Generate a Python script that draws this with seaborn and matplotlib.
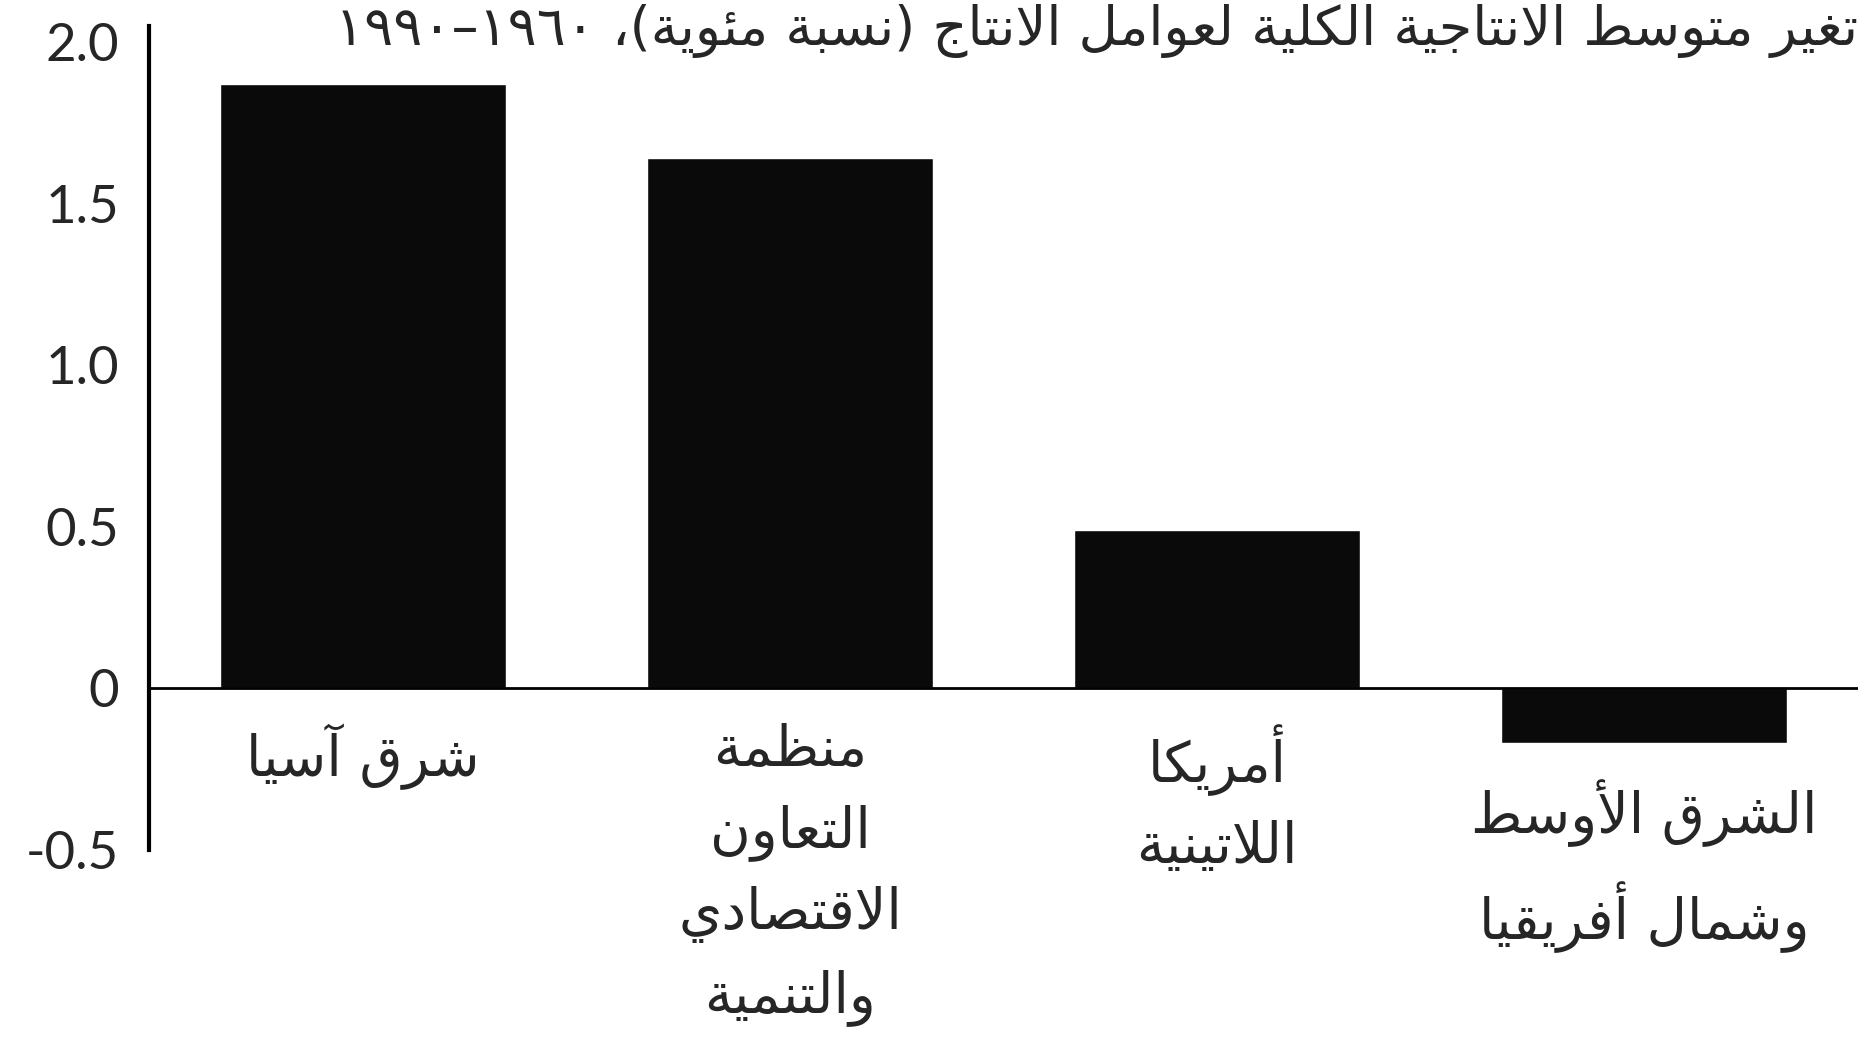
import re
import matplotlib
matplotlib.use("Agg")
import matplotlib.pyplot as plt
import seaborn as sns
import pandas as pd

# data
regions = ["شرق آسيا",
           "منظمة\nالتعاون\nالاقتصادي\nوالتنمية",
           "أمريكا\nاللاتينية",
           "الشرق الأوسط\nوشمال أفريقيا"]
values = [1.87, 1.64, 0.49, -0.17]
yticks = [-0.5, 0, 0.5, 1.0, 1.5, 2.0]
ytick_labels = ["-0.5", "0", "0.5", "1.0", "1.5", "2.0"]
title = "تغير متوسط الانتاجية الكلية لعوامل الانتاج (نسبة مئوية)، ١٩٦٠–١٩٩٠"

# minimal arabic shaping (matplotlib does not shape arabic itself)
DUAL = {'ب': 0xFE8F, 'ت': 0xFE95, 'ث': 0xFE99, 'ج': 0xFE9D, 'ح': 0xFEA1, 'خ': 0xFEA5,
        'س': 0xFEB1, 'ش': 0xFEB5, 'ص': 0xFEB9, 'ض': 0xFEBD, 'ط': 0xFEC1, 'ظ': 0xFEC5,
        'ع': 0xFEC9, 'غ': 0xFECD, 'ف': 0xFED1, 'ق': 0xFED5, 'ك': 0xFED9, 'ل': 0xFEDD,
        'م': 0xFEE1, 'ن': 0xFEE5, 'ه': 0xFEE9, 'ي': 0xFEF1, 'ئ': 0xFE89}
RIGHT = {'آ': 0xFE81, 'أ': 0xFE83, 'ا': 0xFE8D, 'ة': 0xFE93, 'د': 0xFEA9, 'ذ': 0xFEAB,
         'ر': 0xFEAD, 'ز': 0xFEAF, 'و': 0xFEED, 'ى': 0xFEEF,
         'لا': 0xFEFB, 'لأ': 0xFEF7, 'لآ': 0xFEF5}


def shape_line(s):
    toks = []
    i = 0
    while i < len(s):
        if s[i] == 'ل' and i + 1 < len(s) and s[i + 1] in 'اأآ':
            toks.append(s[i:i + 2])
            i += 2
        else:
            toks.append(s[i])
            i += 1
    out = []
    for k, t in enumerate(toks):
        prev = toks[k - 1] if k > 0 else None
        nxt = toks[k + 1] if k + 1 < len(toks) else None
        if t in DUAL:
            jp = prev in DUAL
            jn = nxt in DUAL or nxt in RIGHT
            off = 3 if (jp and jn) else 1 if jp else 2 if jn else 0
            out.append(chr(DUAL[t] + off))
        elif t in RIGHT:
            out.append(chr(RIGHT[t] + (1 if prev in DUAL else 0)))
        else:
            out.append(t)
    text = ''.join(out)
    parts = re.findall(r'[0-9\u0660-\u0669]+|.', text)
    mirror = {'(': ')', ')': '('}
    return ''.join(mirror.get(p, p) for p in reversed(parts))


def shape(s):
    return '\n'.join(shape_line(l) for l in s.split('\n'))


df = pd.DataFrame({"region": regions, "value": values})

sns.set_style("white")
plt.rcParams['font.family'] = ['Lato', 'DejaVu Sans']

fig = plt.figure(figsize=(18.67, 10.39), dpi=100)
ax = fig.add_axes([0.08, 0.182, 0.915, 0.793])

sns.barplot(data=df, x="region", y="value", color="#0a0a0a", saturation=1,
            width=0.67, ax=ax)

ax.set_xlim(-0.5, 3.5)
ax.set_ylim(-0.5, 2.05)
ax.set_yticks(yticks)
ax.set_yticklabels(ytick_labels, fontsize=38)
ax.tick_params(axis='y', length=0, pad=22)
ax.set_xticks([])
ax.set_xlabel("")
ax.set_ylabel("")
for s in ["top", "right", "bottom"]:
    ax.spines[s].set_visible(False)
ax.spines["left"].set_linewidth(3)
ax.spines["left"].set_color("black")
ax.axhline(0, color="black", lw=2)

for i, (lab, v) in enumerate(zip(regions, values)):
    ax.text(i, min(v, 0) - 0.11, shape(lab), ha="center", va="top",
            family="DejaVu Sans", fontsize=40, linespacing=1.6)

fig.text(0.995, 0.957, shape(title), ha="right", va="baseline",
         family="DejaVu Sans", fontsize=39)

fig.savefig("out.png", dpi=100)
